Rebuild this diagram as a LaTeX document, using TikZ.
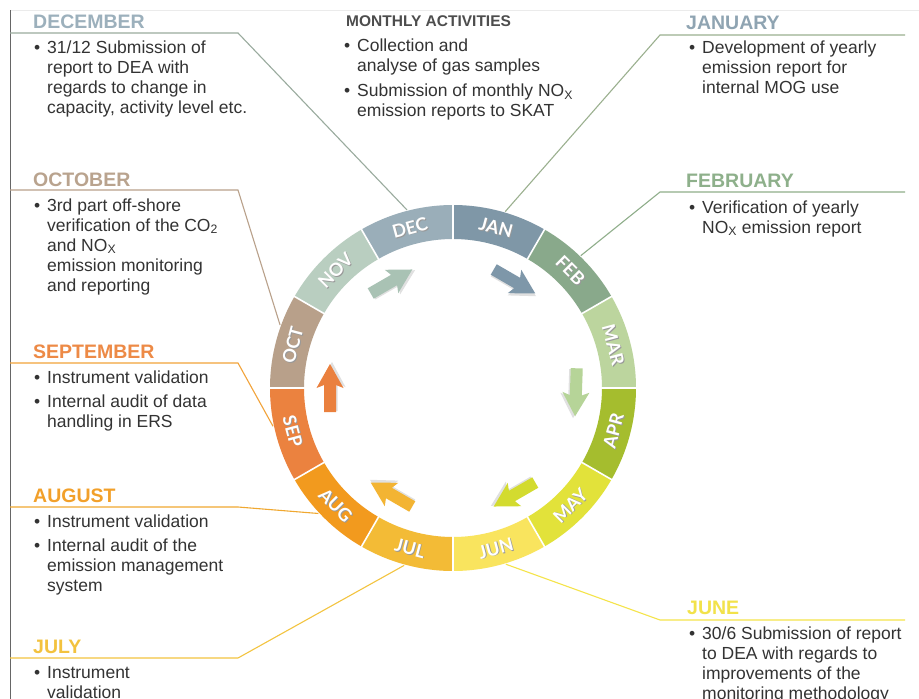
\documentclass[tikz,border=0pt]{standalone}
\usepackage{fontspec}
\setmainfont{Liberation Sans}
\newfontfamily\labelfont{Lato}
\usetikzlibrary{calc}
\definecolor{cJan}{HTML}{7F97A7}
\definecolor{cFeb}{HTML}{89A98B}
\definecolor{cMar}{HTML}{BCD59E}
\definecolor{cApr}{HTML}{A5BD2E}
\definecolor{cMay}{HTML}{E2E23A}
\definecolor{cJun}{HTML}{F9E45E}
\definecolor{cJul}{HTML}{F3BB36}
\definecolor{cAug}{HTML}{F29A1E}
\definecolor{cSep}{HTML}{EB823F}
\definecolor{cOct}{HTML}{B8A08A}
\definecolor{cNov}{HTML}{B9CEC0}
\definecolor{cDec}{HTML}{9AAEB9}
\definecolor{aNovDec}{HTML}{A9C2B4}
\definecolor{aJanFeb}{HTML}{7E97A9}
\definecolor{aMarApr}{HTML}{B6D498}
\definecolor{aMay}{HTML}{D3DB2F}
\definecolor{aJulAug}{HTML}{F3B433}
\definecolor{aSep}{HTML}{EA803E}
\definecolor{hDec}{HTML}{9CB0BC}
\definecolor{hJan}{HTML}{8FA4B2}
\definecolor{hFeb}{HTML}{8EB08B}
\definecolor{hOct}{HTML}{B9A38E}
\definecolor{hSep}{HTML}{ED8A46}
\definecolor{hAug}{HTML}{F2A02A}
\definecolor{hJul}{HTML}{F3C23E}
\definecolor{hJun}{HTML}{F2E24A}
\definecolor{lDec}{HTML}{9AAB9E}
\definecolor{lJan}{HTML}{9BB08F}
\definecolor{lFeb}{HTML}{8FAE8A}
\definecolor{lOct}{HTML}{B9A18B}
\definecolor{lSep}{HTML}{F2A33A}
\definecolor{lAug}{HTML}{F0A830}
\definecolor{lJul}{HTML}{F3C440}
\definecolor{lJun}{HTML}{F5E44A}
\definecolor{bodygray}{HTML}{333333}
\definecolor{headgray}{HTML}{4D4D4D}
\newcommand\blt{\makebox[13pt][l]{•}}
\newcommand\bind{\hspace*{13pt}}
\newcommand\subx{\textsubscript{X}}
\begin{document}
\begin{tikzpicture}[x=1pt,y=1pt,
  body/.style={font=\fontsize{17.5}{20}\selectfont, text=bodygray, align=left, inner sep=0pt, anchor=base west},
  head/.style={font=\fontsize{19.5}{22}\selectfont\bfseries, inner sep=0pt, anchor=base west},
  smallhead/.style={font=\fontsize{15.5}{18}\selectfont\bfseries, text=headgray, inner sep=0pt, anchor=base west},
  leader/.style={line width=1.1pt},
  sepline/.style={white, line width=1.6pt},
  monthlabel/.style={font=\labelfont\bfseries\fontsize{18}{18}\selectfont, text=white, inner sep=0pt},
  monthshadow/.style={font=\labelfont\bfseries\fontsize{18}{18}\selectfont, text=black!40, inner sep=0pt},
  arrowshadow/.style={fill=black!12}]
\useasboundingbox (0,0) rectangle (919,-699);
\fill[white] (0,0) rectangle (919,-699);
% frame lines
\draw[black!8, line width=0.8pt] (10,-10) -- (919,-10);
\draw[black!60, line width=1pt] (10,-10) -- (10,-699);

\begin{scope}[shift={(453,-388)}]
  \foreach \s/\e/\col in {90/60/cJan, 60/30/cFeb, 30/0/cMar, 0/-30/cApr, -30/-60/cMay, -60/-90/cJun, -90/-120/cJul, -120/-150/cAug, -150/-180/cSep, 180/150/cOct, 150/120/cNov, 120/90/cDec}
    \fill[\col] (\s:183) arc[start angle=\s, end angle=\e, radius=183] -- (\e:149) arc[start angle=\e, end angle=\s, radius=149] -- cycle;
  \foreach \a in {0,30,...,330}
    \draw[sepline] (\a:148) -- (\a:184);
  \foreach \c/\lab in {75/JAN, 45/FEB, 15/MAR, -15/APR, -45/MAY, -75/JUN, -105/JUL, -135/AUG, -165/SEP, 165/OCT, 135/NOV, 105/DEC} {
    \pgfmathsetmacro\rot{\c>0 ? \c-90 : \c+90}
    \node[monthshadow, xshift=0.9pt, yshift=-0.9pt, rotate=\rot] (sh\lab) at (\c:166) {\lab};
    \node[monthlabel, rotate=\rot] (lab\lab) at (\c:166) {\lab};
  }
  \foreach \a/\col in {120/aNovDec, 60/aJanFeb, -2/aMarApr, -60/aMay, -120/aJulAug, 180/aSep} {
    \begin{scope}[shift={(\a:123)}, rotate=\a-90]
      \fill[arrowshadow] (-23,-7.5) -- (4,-7.5) -- (1,-15.5) -- (26,-2) -- (1,11.5) -- (4,4.5) -- (-23,4.5) -- cycle;
      \fill[\col] (-24,-6) -- (3,-6) -- (0,-13.5) -- (24,0) -- (0,13.5) -- (3,6) -- (-24,6) -- cycle;
    \end{scope}
  }
  \coordinate (rDec) at (104.5:184);
  \coordinate (rJan) at (73.5:184);
  \coordinate (rFeb) at (46:184);
  \coordinate (rOct) at (160:184);
  \coordinate (rSep) at (192:184);
  \coordinate (rAug) at (223:184);
  \coordinate (rJul) at (254.6:184);
  \coordinate (rJun) at (286.7:184);
\end{scope}

% leader corner coordinates
\coordinate (decA) at (10,-33);  \coordinate (decB) at (238,-33);
\coordinate (octA) at (10,-190); \coordinate (octB) at (238,-190);
\coordinate (sepA) at (10,-363); \coordinate (sepB) at (238,-363);
\coordinate (augA) at (10,-507); \coordinate (augB) at (238,-507);
\coordinate (julA) at (10,-658); \coordinate (julB) at (238,-658);
\coordinate (janB) at (660,-35); \coordinate (janC) at (905,-35);
\coordinate (febB) at (660,-192); \coordinate (febC) at (905,-192);
\coordinate (junB) at (660,-620); \coordinate (junC) at (905,-620);

\draw[leader, lDec] (decA) -- (decB) -- (rDec);
\draw[leader, lOct] (octA) -- (octB) -- (rOct);
\draw[leader, lSep] (sepA) -- (sepB) -- (rSep);
\draw[leader, lAug] (augA) -- (augB) -- (rAug);
\draw[leader, lJul] (julA) -- (julB) -- (rJul);
\draw[leader, lJan] (rJan) -- (janB) -- (janC);
\draw[leader, lFeb] (rFeb) -- (febB) -- (febC);
\draw[leader, lJun] (rJun) -- (junB) -- (junC);

% headings
\node[head, text=hDec] (hdDec) at (33,-28) {DECEMBER};
\node[head, text=hOct] (hdOct) at (33,-186) {OCTOBER};
\node[head, text=hSep] (hdSep) at (33,-358) {SEPTEMBER};
\node[head, text=hAug] (hdAug) at (33,-502) {AUGUST};
\node[head, text=hJul] (hdJul) at (33,-653) {JULY};
\node[head, text=hJan] (hdJan) at (686,-29) {JANUARY};
\node[head, text=hFeb] (hdFeb) at (686,-187) {FEBRUARY};
\node[head, text=hJun] (hdJun) at (687,-614) {JUNE};
\node[smallhead] (hdMon) at (346,-26) {MONTHLY ACTIVITIES};

% bodies (anchored at the baseline of their last line)
\node[body] (bdDec) at (34,-113) {\blt 31/12 Submission of\\ \bind report to DEA with\\ \bind regards to change in\\ \bind capacity, activity level etc.};
\node[body] (bdMon) at (344,-116.5) {\blt Collection and\\ \bind analyse of gas samples\\[5.5pt] \blt Submission of monthly NO\subx\\ \bind emission reports to SKAT};
\node[body] (bdJan) at (689,-93) {\blt Development of yearly\\ \bind emission report for\\ \bind internal MOG use};
\node[body] (bdFeb) at (689,-233) {\blt Verification of yearly\\ \bind NO\subx{} emission report};
\node[body] (bdOct) at (34,-291) {\blt 3rd part off-shore\\ \bind verification of the CO\textsubscript{2}\\ \bind and NO\subx\\ \bind emission monitoring\\ \bind and reporting};
\node[body] (bdSep) at (34,-427) {\blt Instrument validation\\[4pt] \blt Internal audit of data\\ \bind handling in ERS};
\node[body] (bdAug) at (34,-591) {\blt Instrument validation\\[4pt] \blt Internal audit of the\\ \bind emission management\\ \bind system};
\node[body] (bdJul) at (34,-698) {\blt Instrument\\ \bind validation};
\node[body] (bdJun) at (689,-699) {\blt 30/6 Submission of report\\ \bind to DEA with regards to\\ \bind improvements of the\\ \bind monitoring methodology};
\end{tikzpicture}
\end{document}
